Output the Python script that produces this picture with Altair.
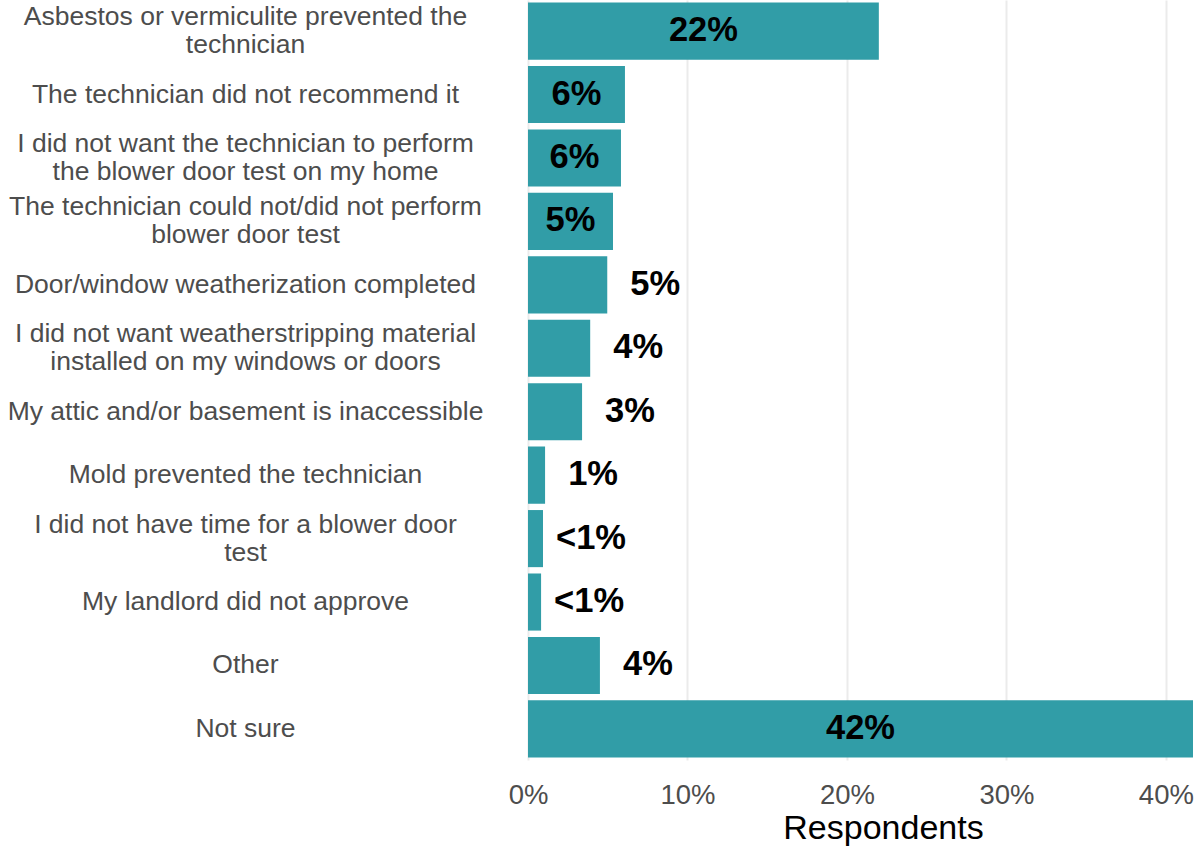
import altair as alt
import pandas as pd

categories = [
    "Asbestos or vermiculite prevented the|technician",
    "The technician did not recommend it",
    "I did not want the technician to perform|the blower door test on my home",
    "The technician could not/did not perform|blower door test",
    "Door/window weatherization completed",
    "I did not want weatherstripping material|installed on my windows or doors",
    "My attic and/or basement is inaccessible",
    "Mold prevented the technician",
    "I did not have time for a blower door|test",
    "My landlord did not approve",
    "Other",
    "Not sure",
]
values = [22.0, 6.08, 5.83, 5.33, 4.97, 3.9, 3.39, 1.07, 0.94, 0.82, 4.51, 41.7]
labels = ["22%", "6%", "6%", "5%", "5%", "4%", "3%", "1%", "<1%", "<1%", "4%", "42%"]

df = pd.DataFrame({"cat": categories, "val": values, "lab": labels})
df["half"] = df["val"] / 2
df["inside"] = df["val"] >= 5.2

FONT = "Liberation Sans"
xmax = max(values)

y_enc = alt.Y(
    "cat:N",
    sort=categories,
    title=None,
    scale=alt.Scale(paddingInner=0.1, paddingOuter=0.04),
    axis=alt.Axis(
        ticks=False,
        domain=False,
        grid=False,
        labelAlign="center",
        labelBaseline="middle",
        labelPadding=283,
        labelFont=FONT,
        labelFontSize=26.5,
        labelLineHeight=28,
        labelColor="#4D4D4D",
        labelLimit=600,
        labelExpr="split(datum.label, '|')",
        labelOffset={"condition": {"test": "indexof(datum.label, '|') >= 0", "value": -14}, "value": 0},
    ),
)

x_scale = alt.Scale(domain=[0, xmax], nice=False, zero=True)

bars = alt.Chart(df).mark_bar(color="#2A9AA4", opacity=0.97).encode(
    x=alt.X(
        "val:Q",
        scale=x_scale,
        title="Respondents",
        axis=alt.Axis(
            values=[0, 10, 20, 30, 40],
            labelExpr="datum.value + '%'",
            ticks=False,
            domain=False,
            grid=True,
            gridColor="#EBEBEB",
            gridWidth=2,
            labelFont=FONT,
            labelFontSize=27.5,
            labelColor="#4D4D4D",
            labelPadding=21,
            labelFlush=False,
            titleFont=FONT,
            titleFontSize=34,
            titleFontWeight="normal",
            titleColor="#000000",
            titlePadding=3,
            titleX=355,
            titleAnchor="middle",
        ),
    ),
    y=y_enc,
)

inside = alt.Chart(df).transform_filter("datum.inside").mark_text(
    font=FONT, fontSize=34.5, fontWeight="bold", color="#000000", align="center", baseline="middle"
).encode(
    x=alt.X("half:Q", scale=x_scale),
    y=alt.Y("cat:N", sort=categories),
    text="lab:N",
)

outside = alt.Chart(df).transform_filter("!datum.inside").mark_text(
    font=FONT, fontSize=34.5, fontWeight="bold", color="#000000", align="center", baseline="middle", dx=48
).encode(
    x=alt.X("val:Q", scale=x_scale),
    y=alt.Y("cat:N", sort=categories),
    text="lab:N",
)

chart = alt.layer(bars, inside, outside).properties(
    width=665,
    height=760,
    autosize=alt.AutoSizeParams(type="none"),
    padding={"left": 528, "top": 0, "right": 5, "bottom": 93},
).configure_view(stroke=None)

chart.save("out.html", embed_options={"renderer": "svg", "actions": False})
